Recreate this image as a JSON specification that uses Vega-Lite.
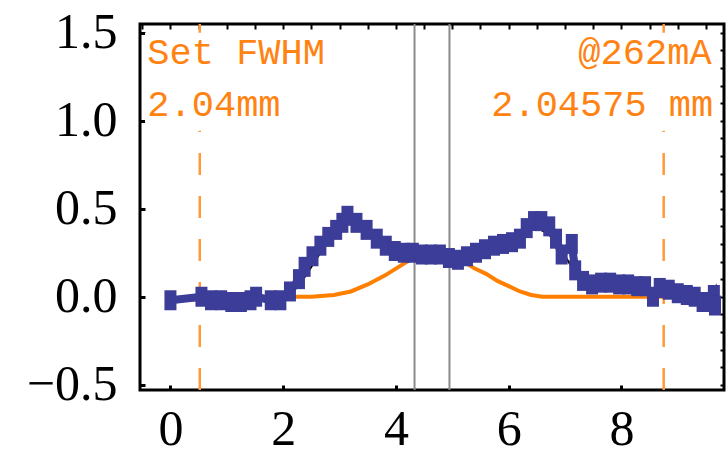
{
  "$schema": "https://vega.github.io/schema/vega-lite/v6.json",
  "width": 584,
  "height": 366,
  "autosize": "none",
  "padding": {"left": 140, "top": 24, "right": 3, "bottom": 65},
  "background": "white",
  "config": {
    "view": {"stroke": "black", "strokeWidth": 3},
    "axis": {"grid": false, "domain": false, "title": null}
  },
  "datasets": {
    "profile": [
      {"pos": 0.00, "signal": -0.02}, {"pos": 0.55, "signal": 0.00}, {"pos": 0.72, "signal": -0.02},
      {"pos": 0.90, "signal": -0.02}, {"pos": 1.08, "signal": -0.03}, {"pos": 1.25, "signal": -0.03},
      {"pos": 1.42, "signal": -0.02}, {"pos": 1.52, "signal": 0.00}, {"pos": 1.78, "signal": -0.02},
      {"pos": 1.95, "signal": -0.02}, {"pos": 2.12, "signal": 0.03}, {"pos": 2.28, "signal": 0.10},
      {"pos": 2.38, "signal": 0.17}, {"pos": 2.52, "signal": 0.23}, {"pos": 2.66, "signal": 0.29},
      {"pos": 2.80, "signal": 0.34}, {"pos": 2.94, "signal": 0.38}, {"pos": 3.05, "signal": 0.42},
      {"pos": 3.14, "signal": 0.46}, {"pos": 3.30, "signal": 0.42}, {"pos": 3.48, "signal": 0.38},
      {"pos": 3.66, "signal": 0.33}, {"pos": 3.82, "signal": 0.29}, {"pos": 3.98, "signal": 0.26},
      {"pos": 4.14, "signal": 0.25}, {"pos": 4.30, "signal": 0.25}, {"pos": 4.46, "signal": 0.24},
      {"pos": 4.62, "signal": 0.24}, {"pos": 4.78, "signal": 0.24}, {"pos": 4.94, "signal": 0.22},
      {"pos": 5.10, "signal": 0.21}, {"pos": 5.26, "signal": 0.23}, {"pos": 5.42, "signal": 0.25},
      {"pos": 5.58, "signal": 0.27}, {"pos": 5.74, "signal": 0.29}, {"pos": 5.90, "signal": 0.30},
      {"pos": 6.06, "signal": 0.31}, {"pos": 6.20, "signal": 0.33}, {"pos": 6.32, "signal": 0.39},
      {"pos": 6.45, "signal": 0.43}, {"pos": 6.58, "signal": 0.43}, {"pos": 6.72, "signal": 0.40},
      {"pos": 6.84, "signal": 0.33}, {"pos": 6.94, "signal": 0.24}, {"pos": 7.12, "signal": 0.30},
      {"pos": 7.18, "signal": 0.15}, {"pos": 7.32, "signal": 0.09}, {"pos": 7.48, "signal": 0.07},
      {"pos": 7.64, "signal": 0.08}, {"pos": 7.80, "signal": 0.08}, {"pos": 7.96, "signal": 0.07},
      {"pos": 8.12, "signal": 0.07}, {"pos": 8.28, "signal": 0.06}, {"pos": 8.42, "signal": 0.06},
      {"pos": 8.56, "signal": 0.00}, {"pos": 8.68, "signal": 0.05}, {"pos": 8.84, "signal": 0.04},
      {"pos": 9.00, "signal": 0.02}, {"pos": 9.16, "signal": 0.01}, {"pos": 9.30, "signal": 0.00},
      {"pos": 9.44, "signal": -0.03}, {"pos": 9.56, "signal": -0.03}, {"pos": 9.64, "signal": 0.01},
      {"pos": 9.66, "signal": -0.05}
    ],
    "fit": [
      {"pos": 0.0, "signal": -0.02}, {"pos": 1.0, "signal": -0.02}, {"pos": 1.8, "signal": -0.02},
      {"pos": 2.0, "signal": -0.01}, {"pos": 2.2, "signal": 0.04}, {"pos": 2.4, "signal": 0.12},
      {"pos": 2.6, "signal": 0.22}, {"pos": 2.8, "signal": 0.32}, {"pos": 3.0, "signal": 0.40},
      {"pos": 3.15, "signal": 0.43}, {"pos": 3.3, "signal": 0.41}, {"pos": 3.5, "signal": 0.36},
      {"pos": 3.7, "signal": 0.31}, {"pos": 3.9, "signal": 0.27}, {"pos": 4.2, "signal": 0.24},
      {"pos": 4.6, "signal": 0.22}, {"pos": 5.0, "signal": 0.21}, {"pos": 5.4, "signal": 0.24},
      {"pos": 5.8, "signal": 0.29}, {"pos": 6.1, "signal": 0.34}, {"pos": 6.3, "signal": 0.38},
      {"pos": 6.5, "signal": 0.39}, {"pos": 6.7, "signal": 0.36}, {"pos": 6.9, "signal": 0.28},
      {"pos": 7.1, "signal": 0.18}, {"pos": 7.3, "signal": 0.11}, {"pos": 7.5, "signal": 0.08},
      {"pos": 8.0, "signal": 0.07}, {"pos": 8.5, "signal": 0.05}, {"pos": 9.0, "signal": 0.02},
      {"pos": 9.6, "signal": -0.02}
    ],
    "setProfile": [
      {"pos": 0.52, "signal": 0.0}, {"pos": 1.5, "signal": 0.0}, {"pos": 2.5, "signal": 0.0},
      {"pos": 2.9, "signal": 0.01}, {"pos": 3.2, "signal": 0.03}, {"pos": 3.5, "signal": 0.07},
      {"pos": 3.8, "signal": 0.12}, {"pos": 4.0, "signal": 0.16}, {"pos": 4.2, "signal": 0.20},
      {"pos": 4.4, "signal": 0.23}, {"pos": 4.6, "signal": 0.24}, {"pos": 4.8, "signal": 0.23},
      {"pos": 5.0, "signal": 0.22}, {"pos": 5.2, "signal": 0.20}, {"pos": 5.4, "signal": 0.16},
      {"pos": 5.6, "signal": 0.13}, {"pos": 5.8, "signal": 0.09}, {"pos": 6.0, "signal": 0.06},
      {"pos": 6.2, "signal": 0.03}, {"pos": 6.4, "signal": 0.01}, {"pos": 6.6, "signal": 0.0},
      {"pos": 7.5, "signal": 0.0}, {"pos": 8.75, "signal": 0.0}
    ],
    "centers": [{"pos": 4.33}, {"pos": 4.95}],
    "window": [{"pos": 0.52}, {"pos": 8.75}]
  },
  "resolve": {"axis": {"x": "independent", "y": "independent"}},
  "layer": [
    {
      "data": {"name": "centers"},
      "mark": {"type": "rule", "color": "#8a8a8a", "strokeWidth": 2},
      "encoding": {
        "x": {"field": "pos", "type": "quantitative", "axis": null,
              "scale": {"domain": [-0.54, 9.82], "nice": false, "zero": false}}
      }
    },
    {
      "mark": {"type": "rule", "color": "#8a8a8a", "strokeWidth": 2},
      "encoding": {
        "y": {"datum": 0, "type": "quantitative", "axis": null,
              "scale": {"domain": [-0.53, 1.55], "nice": false, "zero": false}}
      }
    },
    {
      "data": {"name": "window"},
      "mark": {"type": "rule", "color": "#ff9a3c", "strokeWidth": 2.5, "strokeDash": [22, 21]},
      "encoding": {
        "x": {"field": "pos", "type": "quantitative", "axis": null},
        "y": {"datum": 1.55, "type": "quantitative", "axis": null},
        "y2": {"datum": -0.53}
      }
    },
    {
      "data": {"values": [{"box": "left"}]},
      "mark": {"type": "rect", "fill": "white"},
      "encoding": {
        "x": {"datum": -0.45, "type": "quantitative", "axis": null},
        "x2": {"datum": 2.9},
        "y": {"datum": 1.5, "type": "quantitative", "axis": null},
        "y2": {"datum": 0.943}
      }
    },
    {
      "data": {"values": [{"box": "right"}]},
      "mark": {"type": "rect", "fill": "white"},
      "encoding": {
        "x": {"datum": 5.0, "type": "quantitative", "axis": null},
        "x2": {"datum": 9.68},
        "y": {"datum": 1.5, "type": "quantitative", "axis": null},
        "y2": {"datum": 0.943}
      }
    },
    {
      "data": {"values": [{"note": "Set FWHM"}]},
      "mark": {"type": "text", "align": "left", "baseline": "alphabetic", "color": "#ff8312",
               "font": "Liberation Mono", "fontSize": 37},
      "encoding": {
        "x": {"datum": -0.41, "type": "quantitative", "axis": null},
        "y": {"datum": 1.324, "type": "quantitative", "axis": null},
        "text": {"field": "note"}
      }
    },
    {
      "data": {"values": [{"note": "2.04mm"}]},
      "mark": {"type": "text", "align": "left", "baseline": "alphabetic", "color": "#ff8312",
               "font": "Liberation Mono", "fontSize": 37},
      "encoding": {
        "x": {"datum": -0.41, "type": "quantitative", "axis": null},
        "y": {"datum": 1.028, "type": "quantitative", "axis": null},
        "text": {"field": "note"}
      }
    },
    {
      "data": {"values": [{"note": "@262mA"}]},
      "mark": {"type": "text", "align": "right", "baseline": "alphabetic", "color": "#ff8312",
               "font": "Liberation Mono", "fontSize": 37},
      "encoding": {
        "x": {"datum": 9.6, "type": "quantitative", "axis": null},
        "y": {"datum": 1.324, "type": "quantitative", "axis": null},
        "text": {"field": "note"}
      }
    },
    {
      "data": {"values": [{"note": "2.04575 mm"}]},
      "mark": {"type": "text", "align": "right", "baseline": "alphabetic", "color": "#ff8312",
               "font": "Liberation Mono", "fontSize": 37},
      "encoding": {
        "x": {"datum": 9.63, "type": "quantitative", "axis": null},
        "y": {"datum": 1.028, "type": "quantitative", "axis": null},
        "text": {"field": "note"}
      }
    },
    {
      "data": {"name": "setProfile"},
      "mark": {"type": "line", "color": "#ff8000", "strokeWidth": 4},
      "encoding": {
        "x": {"field": "pos", "type": "quantitative", "axis": null},
        "y": {"field": "signal", "type": "quantitative", "axis": null}
      }
    },
    {
      "data": {"name": "fit"},
      "mark": {"type": "line", "color": "black", "strokeWidth": 2},
      "encoding": {
        "x": {"field": "pos", "type": "quantitative",
              "axis": {"orient": "top", "labels": false, "ticks": true, "tickSize": -5, "tickWidth": 2,
                       "tickColor": "black",
                       "values": [-0.5, 0, 0.5, 1, 1.5, 2, 2.5, 3, 3.5, 4, 4.5, 5, 5.5, 6, 6.5, 7, 7.5, 8, 8.5, 9, 9.5]}},
        "y": {"field": "signal", "type": "quantitative",
              "axis": {"orient": "right", "labels": false, "ticks": true, "tickSize": -4, "tickWidth": 2,
                       "tickColor": "black",
                       "values": [-0.5, -0.4, -0.3, -0.2, -0.1, 0, 0.1, 0.2, 0.3, 0.4, 0.5, 0.6, 0.7, 0.8, 0.9, 1.0, 1.1, 1.2, 1.3, 1.4, 1.5]}}
      }
    },
    {
      "data": {"name": "profile"},
      "mark": {"type": "line", "color": "#3c3c99", "strokeWidth": 8, "strokeJoin": "miter"},
      "encoding": {
        "x": {"field": "pos", "type": "quantitative",
              "axis": {"orient": "bottom", "values": [0, 2, 4, 6, 8], "format": "d",
                       "ticks": true, "tickSize": -5, "tickWidth": 3, "tickColor": "black",
                       "labelFont": "Liberation Serif", "labelFontSize": 50, "labelColor": "black",
                       "labelPadding": 19, "labelFlush": false, "labelOverlap": false}},
        "y": {"field": "signal", "type": "quantitative",
              "axis": {"orient": "left", "values": [-0.5, 0, 0.5, 1, 1.5], "format": ".1f",
                       "ticks": true, "tickSize": -5, "tickWidth": 3, "tickColor": "black",
                       "labelFont": "Liberation Serif", "labelFontSize": 50, "labelColor": "black",
                       "labelPadding": 28, "labelFlush": false, "labelOverlap": false}}
      }
    },
    {
      "data": {"name": "profile"},
      "mark": {"type": "point", "shape": "M-0.6,-1H0.6V1H-0.6Z", "size": 400,
               "filled": true, "color": "#3c3c99", "opacity": 1},
      "encoding": {
        "x": {"field": "pos", "type": "quantitative", "axis": null},
        "y": {"field": "signal", "type": "quantitative", "axis": null}
      }
    }
  ]
}
